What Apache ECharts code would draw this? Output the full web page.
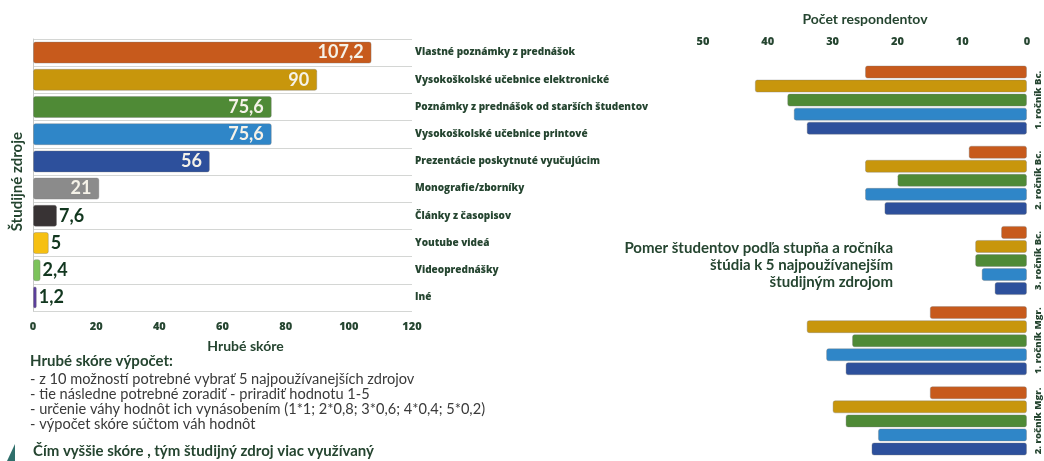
<!DOCTYPE html>
<html>
<head>
<meta charset="utf-8">
<script src="https://cdn.jsdelivr.net/npm/echarts@6/dist/echarts.min.js"></script>
<style>
html,body{margin:0;padding:0;background:#fff;}
#chart{width:1044px;height:461px;}
</style>
</head>
<body>
<div id="chart"></div>
<script>
// ---- Data ----
const sources = [
  'Vlastné poznámky z prednášok',
  'Vysokoškolské učebnice elektronické',
  'Poznámky z prednášok od starších študentov',
  'Vysokoškolské učebnice printové',
  'Prezentácie poskytnuté vyučujúcim',
  'Monografie/zborníky',
  'Články z časopisov',
  'Youtube videá',
  'Videoprednášky',
  'Iné'
];
const scores = [107.2, 90, 75.6, 75.6, 56, 21, 7.6, 5, 2.4, 1.2];
const scoreTicks = [0, 20, 40, 60, 80, 100, 120];

const years = ['1. ročník Bc.', '2. ročník Bc.', '3. ročník Bc.', '1. ročník Mgr.', '2. ročník Mgr.'];
const vlastnePoznamky   = [25, 9, 4, 15, 15];
const ucebniceElektr    = [42, 25, 8, 34, 30];
const poznamkyStarsich  = [37, 20, 8, 27, 28];
const ucebnicePrint     = [36, 25, 7, 31, 23];
const prezentacie       = [34, 22, 5, 28, 24];
const respondentTicks = [0, 10, 20, 30, 40, 50];

const colors = ['#c75a1c', '#c8960c', '#4f8a36', '#2f86c8', '#2d509c', '#8b8b8b', '#383334', '#f6c012', '#7cc35b', '#5b3d9c'];
const textDark = '#254530';
const fontFam = 'Lato';
const wideFam = '"Open Sans"';

const chart = echarts.init(document.getElementById('chart'), null, {renderer: 'canvas'});

const fmt = v => String(v).replace('.', ',');

const leftData = scores.map((v, i) => ({
  value: v,
  itemStyle: {color: colors[i]},
  label: i < 6 ? {position: 'insideRight', color: '#f5f2e8', distance: 8}
               : {position: 'right', color: '#12371f', distance: 2}
}));

const rightSeries = [vlastnePoznamky, ucebniceElektr, poznamkyStarsich, ucebnicePrint, prezentacie].map((d, i) => ({
  type: 'bar',
  name: sources[i],
  xAxisIndex: 1,
  yAxisIndex: 1,
  data: d,
  barWidth: 13,
  barGap: '8%',
  itemStyle: {color: colors[i], borderRadius: 2, borderColor: 'rgba(120,120,120,0.35)', borderWidth: 1},
  silent: true
}));

chart.setOption({
  animation: false,
  backgroundColor: '#ffffff',
  textStyle: {fontFamily: fontFam},
  grid: [
    {left: 33, top: 39, width: 379, height: 272},
    {left: 703, right: 17, top: 60, height: 403}
  ],
  xAxis: [
    {
      gridIndex: 0, type: 'value', min: scoreTicks[0], max: scoreTicks[scoreTicks.length - 1], interval: 20,
      axisLine: {show: false}, axisTick: {show: false},
      splitLine: {show: false},
      axisLabel: {color: textDark, fontWeight: 800, fontSize: 11, margin: 10, fontFamily: wideFam},
      name: 'Hrubé skóre', nameLocation: 'middle', nameGap: 28,
      nameTextStyle: {color: textDark, fontWeight: 'bold', fontSize: 14, padding: [0, 0, 0, 46], fontFamily: fontFam}
    },
    {
      gridIndex: 1, type: 'value', min: respondentTicks[0], max: respondentTicks[respondentTicks.length - 1], interval: 10,
      inverse: true, position: 'top',
      axisLine: {show: false}, axisTick: {show: false}, splitLine: {show: false},
      axisLabel: {color: textDark, fontWeight: 800, fontSize: 11, margin: 13, fontFamily: wideFam},
      name: 'Počet respondentov', nameLocation: 'middle', nameGap: 34,
      nameTextStyle: {color: textDark, fontWeight: 'bold', fontSize: 14, fontFamily: fontFam}
    }
  ],
  yAxis: [
    {
      gridIndex: 0, type: 'category', data: sources, inverse: true, position: 'right',
      axisLine: {show: true, lineStyle: {color: '#c8cac8', width: 1}},
      axisTick: {show: false},
      splitLine: {show: true, lineStyle: {color: '#d4d6d4', width: 1}},
      axisLabel: {color: textDark, fontWeight: 800, fontSize: 10, margin: 3, align: 'left', fontFamily: wideFam, interval: 0}
    },
    {
      gridIndex: 1, type: 'category', data: years, inverse: true, position: 'right',
      axisLine: {show: false}, axisTick: {show: false},
      axisLabel: {color: textDark, fontWeight: 800, fontSize: 9.5, rotate: 90, margin: 6, fontFamily: wideFam, interval: 0}
    }
  ],
  series: [
    {
      type: 'bar', xAxisIndex: 0, yAxisIndex: 0, data: leftData,
      barWidth: 22, silent: true,
      itemStyle: {borderRadius: 2, borderColor: 'rgba(120,120,120,0.35)', borderWidth: 1},
      label: {show: true, formatter: p => fmt(p.value), fontSize: 18, fontWeight: 'bold', fontFamily: fontFam}
    }
  ].concat(rightSeries),
  graphic: [
    {
      type: 'text', left: 10, top: 132, rotation: Math.PI / 2,
      style: {text: 'Študijné zdroje', fill: textDark, fontFamily: fontFam, fontWeight: 'bold', fontSize: 15}
    },
    {
      type: 'text', x: 893, y: 240,
      style: {
        text: 'Pomer študentov podľa stupňa a ročníka\nštúdia k 5 najpoužívanejším\nštudijným zdrojom',
        fill: textDark, fontFamily: fontFam, fontWeight: 'bold', fontSize: 15,
        align: 'right', textAlign: 'right', lineHeight: 17
      }
    },
    {
      type: 'text', left: 30, top: 354,
      style: {text: 'Hrubé skóre výpočet:', fill: textDark, fontFamily: fontFam, fontWeight: 'bold', fontSize: 15}
    },
    {
      type: 'text', left: 30, top: 372,
      style: {
        text: '- z 10 možností potrebné vybrať 5 najpoužívanejších zdrojov\n- tie následne potrebné zoradiť - priradiť hodnotu 1-5\n- určenie váhy hodnôt ich vynásobením (1*1; 2*0,8; 3*0,6; 4*0,4; 5*0,2)\n- výpočet skóre súčtom váh hodnôt',
        fill: '#3a3a3a', fontFamily: fontFam, fontSize: 14.6, lineHeight: 15
      }
    },
    {
      type: 'text', left: 33, top: 444,
      style: {text: 'Čím vyššie skóre , tým študijný zdroj viac využívaný', fill: textDark, fontFamily: fontFam, fontWeight: 'bold', fontSize: 15}
    },
    {
      type: 'polygon',
      shape: {points: [[7, 461], [15, 444], [15, 461]]},
      style: {fill: '#2f6f6b'}
    }
  ]
});
</script>
</body>
</html>
